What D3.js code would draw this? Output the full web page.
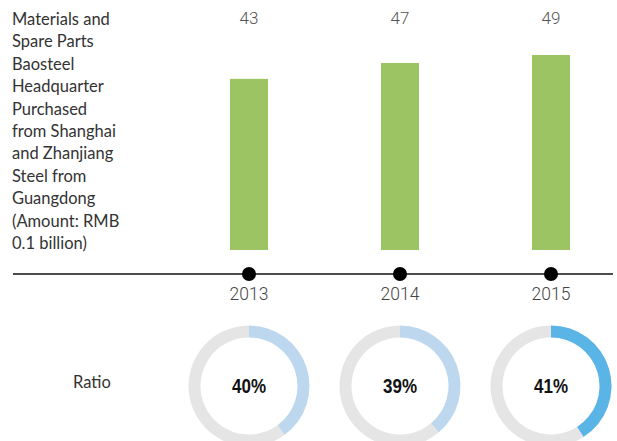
<!DOCTYPE html>
<html>
<head>
<meta charset="utf-8">
<script src="https://cdn.jsdelivr.net/npm/d3@7"></script>
<style>
  body { margin: 0; background: #fff; }
  svg { display: block; }
</style>
</head>
<body>
<svg id="chart"></svg>
<script>
var years = ["2013", "2014", "2015"];
var amounts = [43, 47, 49];
var ratios = [40, 39, 41];
var ringColors = ["#bdd7ee", "#bdd7ee", "#5ab4e5"];
var labelLines = ["Materials and", "Spare Parts", "Baosteel", "Headquarter", "Purchased",
  "from Shanghai", "and Zhanjiang", "Steel from", "Guangdong", "(Amount: RMB", "0.1 billion)"];

var width = 617, height = 441;
var svg = d3.select("#chart").attr("width", width).attr("height", height);

var x = d3.scalePoint().domain(years).range([249, 551]);
var y = d3.scaleLinear().domain([0, 49]).range([250, 55]);
var barW = 38;

// left label
svg.append("text")
    .attr("x", 12)
    .attr("y", 25)
    .style("font-family", "Lato, 'Open Sans', sans-serif")
    .style("font-size", "16.5px")
    .style("fill", "#333")
  .selectAll("tspan").data(labelLines).enter().append("tspan")
    .attr("x", 12)
    .attr("dy", function(d, i) { return i === 0 ? 0 : 22.4; })
    .text(function(d) { return d; });

// bars
svg.selectAll("rect.bar").data(amounts).enter().append("rect")
    .attr("class", "bar")
    .attr("x", function(d, i) { return x(years[i]) - barW / 2; })
    .attr("y", function(d) { return y(d); })
    .attr("width", barW)
    .attr("height", function(d) { return y(0) - y(d); })
    .style("fill", "#9dc463");

svg.selectAll("text.val").data(amounts).enter().append("text")
    .attr("class", "val")
    .attr("x", function(d, i) { return x(years[i]); })
    .attr("y", 24)
    .attr("text-anchor", "middle")
    .style("font-family", "Roboto, 'Liberation Sans', sans-serif")
    .style("font-weight", 300)
    .style("font-size", "17px")
    .style("fill", "#555")
    .text(function(d) { return d; });

// timeline axis
var axisY = 274;
svg.append("line")
    .attr("x1", 13).attr("x2", 613)
    .attr("y1", axisY).attr("y2", axisY)
    .style("stroke", "#111")
    .style("stroke-width", 1.6);

svg.selectAll("circle.dot").data(years).enter().append("circle")
    .attr("class", "dot")
    .attr("cx", function(d) { return x(d); })
    .attr("cy", axisY)
    .attr("r", 7)
    .style("fill", "#000");

svg.selectAll("text.year").data(years).enter().append("text")
    .attr("class", "year")
    .attr("x", function(d) { return x(d); })
    .attr("y", 300)
    .attr("text-anchor", "middle")
    .style("font-family", "Roboto, 'Liberation Sans', sans-serif")
    .style("font-weight", 300)
    .style("font-size", "17.5px")
    .style("fill", "#444")
    .text(function(d) { return d; });

// ratio donuts
svg.append("text")
    .attr("x", 73)
    .attr("y", 388)
    .style("font-family", "Lato, 'Open Sans', sans-serif")
    .style("font-size", "16.5px")
    .style("fill", "#333")
    .text("Ratio");

var cy = 386;
var arc = d3.arc().innerRadius(48.5).outerRadius(60.5);
var pie = d3.pie().sort(null).value(function(d) { return d; });

ratios.forEach(function(r, i) {
  var g = svg.append("g").attr("transform", "translate(" + x(years[i]) + "," + cy + ")");
  g.selectAll("path").data(pie([r, 100 - r])).enter().append("path")
      .attr("d", arc)
      .style("fill", function(d, j) { return j === 0 ? ringColors[i] : "#e5e5e5"; });
  g.append("text")
      .attr("transform", "translate(0,7) scale(0.85,1)")
      .attr("text-anchor", "middle")
      .style("font-family", "'Liberation Sans', Arial, sans-serif")
      .style("font-weight", "bold")
      .style("font-size", "20px")
      .style("fill", "#111")
      .text(r + "%");
});
</script>
</body>
</html>
